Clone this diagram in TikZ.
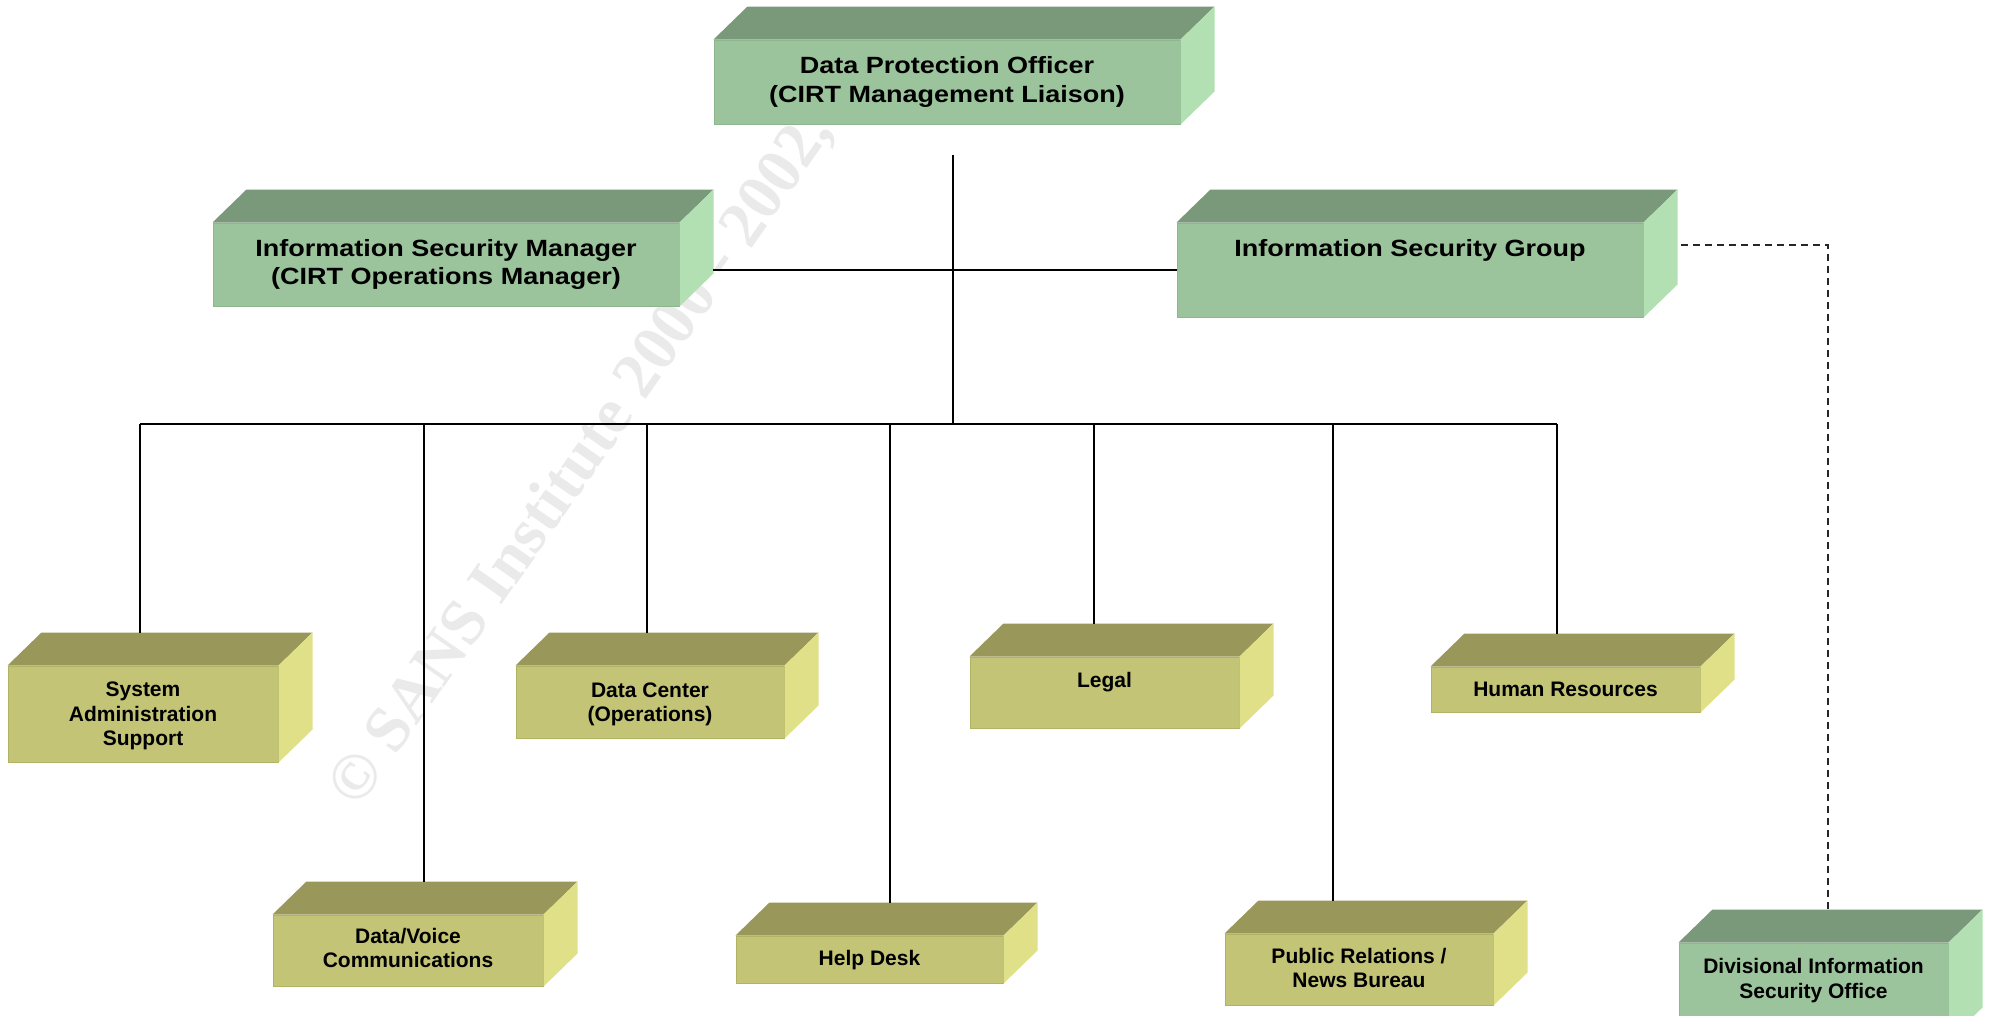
\documentclass[tikz,border=0pt]{standalone}
\usepackage{fontspec}
\setmainfont{Liberation Sans}
\newfontfamily\widefont[FakeStretch=1.15]{Liberation Sans}
\newfontfamily\wmfont{Liberation Serif}
\usetikzlibrary{calc,fit}

\definecolor{gfront}{RGB}{156,196,156}
\definecolor{gtop}{RGB}{122,152,122}
\definecolor{gside}{RGB}{178,224,178}
\definecolor{gedge}{RGB}{140,182,140}
\definecolor{yfront}{RGB}{195,196,118}
\definecolor{ytop}{RGB}{153,151,89}
\definecolor{yside}{RGB}{224,224,137}
\definecolor{yedge}{RGB}{176,178,100}
\definecolor{wmgray}{RGB}{234,234,234}

\newcommand\cs{\rule[-0.22em]{0pt}{1.156em}}

\tikzset{
  conn/.style={draw=black, line width=2.4pt},
  dashline/.style={draw=black!85, line width=1.6pt, dash pattern=on 7pt off 5pt},
  bigtxt/.style={font=\widefont\bfseries\fontsize{23.5}{28.5}\selectfont, align=center, inner sep=0pt},
  smalltxt/.style={font=\bfseries\fontsize{21}{24.5}\selectfont, align=center, inner sep=0pt},
  faceg/.style={inner sep=0pt, fill=gfront, draw=gedge, line width=1pt},
  facey/.style={inner sep=0pt, fill=yfront, draw=yedge, line width=1pt}
}

% #1 name, #2 x1, #3 y1, #4 x2, #5 y2, #6 colour prefix (g or y)
\newcommand\cubebox[6]{%
  \coordinate (#1-nw) at (#2,#3);
  \coordinate (#1-se) at (#4,#5);
  \node[face#6, fit=(#1-nw)(#1-se)] (#1) {};
  \fill[#6top] (#1.north west) -- ++(34,-33) -- ($(#1.north east)+(34,-33)$) -- (#1.north east) -- cycle;
  \fill[#6side] (#1.north east) -- ++(34,-33) -- ($(#1.south east)+(34,-33)$) -- (#1.south east) -- cycle;
}

\begin{document}
\begin{tikzpicture}[x=1pt,y=-1pt]
\useasboundingbox (0,0) rectangle (1989,1015);
\clip (0,0) rectangle (1989,1015);
\fill[white] (0,0) rectangle (1989,1015);

% watermark
\node[wmgray, font=\wmfont\bfseries\fontsize{65}{65}\selectfont, rotate=55, inner sep=0pt] (wm) at (582,460) {© SANS Institute 2000 - 2002,};

% connectors
\coordinate (dpo-stem) at (953,155);
\coordinate (bus-c) at (953,424);
\coordinate (ism-r) at (713,270);
\coordinate (bus-l) at (140,424);
\coordinate (bus-r) at (1557,424);
\coordinate (sa-in) at (140,633);
\coordinate (dv-in) at (424,882);
\coordinate (dc-in) at (647,633);
\coordinate (hd-in) at (890,903);
\coordinate (lg-in) at (1094,624);
\coordinate (pr-in) at (1333,901);
\coordinate (hr-in) at (1557,634);
\coordinate (isg-r) at (1681,245);
\coordinate (diso-in) at (1828,910);

% boxes
\cubebox{dpo}{714}{40}{1180}{124}{g}
\cubebox{ism}{213}{223}{679}{306}{g}
\cubebox{isg}{1177}{223}{1643}{317}{g}
\cubebox{sa}{8}{666}{278}{762}{y}
\cubebox{dv}{273}{915}{543}{986}{y}
\cubebox{dc}{516}{666}{784}{738}{y}
\cubebox{hd}{736}{936}{1003}{983}{y}
\cubebox{lg}{970}{657}{1239}{728}{y}
\cubebox{pr}{1225}{934}{1493}{1005}{y}
\cubebox{hr}{1431}{667}{1700}{712}{y}
\cubebox{diso}{1679}{943}{1948}{1040}{g}

\draw[conn] (dpo-stem) -- (bus-c);
\draw[conn] (ism-r) -- (isg.west);
\draw[conn] (bus-l) -- (bus-r);
\draw[conn] (sa-in |- bus-l) -- (sa-in);
\draw[conn] (dv-in |- bus-l) -- (dv-in);
\draw[conn] (dc-in |- bus-l) -- (dc-in);
\draw[conn] (hd-in |- bus-l) -- (hd-in);
\draw[conn] (lg-in |- bus-l) -- (lg-in);
\draw[conn] (pr-in |- bus-l) -- (pr-in);
\draw[conn] (hr-in |- bus-l) -- (hr-in);
\draw[dashline] (isg-r) -| (diso-in);

% texts
\node[bigtxt] (dpo-t) at (947,79.5) {\cs Data Protection Officer\\\cs (CIRT Management Liaison)};
\node[bigtxt] (ism-t) at (446,262) {\cs Information Security Manager\\\cs (CIRT Operations Manager)};
\node[bigtxt] (isg-t) at (1410,248) {\cs Information Security Group};
\node[smalltxt] (sa-t) at (143,713.5) {\cs System\\\cs Administration\\\cs Support};
\node[smalltxt] (dv-t) at (408,948) {\cs Data/Voice\\\cs Communications};
\node[smalltxt] (dc-t) at (650,702) {\cs Data Center\\\cs (Operations)};
\node[smalltxt] (hd-t) at (869.5,958) {\cs Help Desk};
\node[smalltxt] (lg-t) at (1104.5,680) {\cs Legal};
\node[smalltxt] (pr-t) at (1359,968) {\cs Public Relations /\\\cs News Bureau};
\node[smalltxt] (hr-t) at (1565.5,689) {\cs Human Resources};
\node[smalltxt] (diso-t) at (1813.5,978.5) {\cs Divisional Information\\\cs Security Office};
\end{tikzpicture}
\end{document}
